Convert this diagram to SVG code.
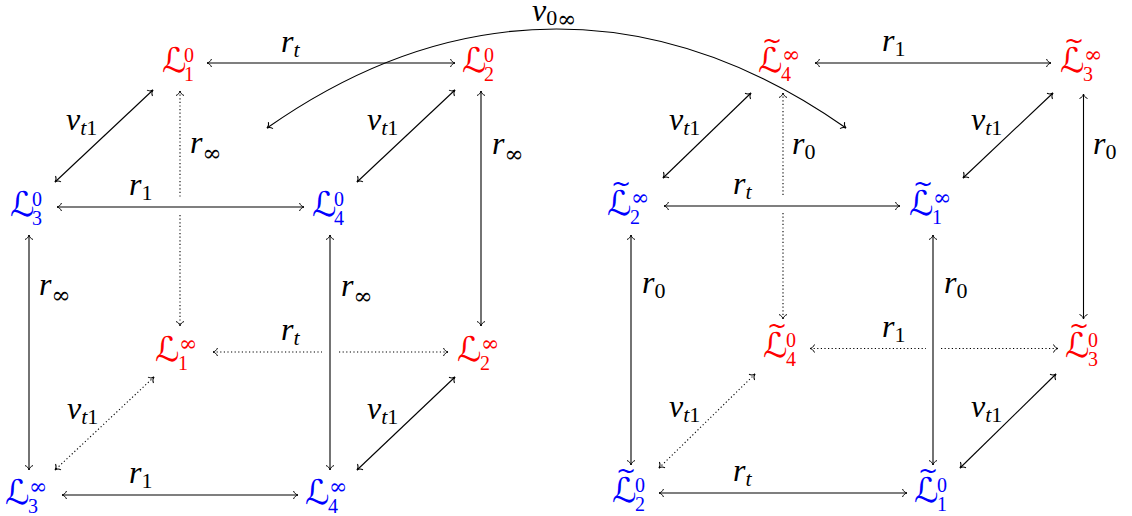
<svg xmlns="http://www.w3.org/2000/svg" width="1132" height="516" viewBox="0 0 1132 516">
<style>
text{font-family:"Liberation Serif","Times New Roman",serif;fill:#000}
.cal{font-family:"DejaVu Serif","DejaVu Sans",serif;font-size:34px}
.sc{font-family:"Liberation Serif",serif;font-size:20px}
.si{font-family:"DejaVu Serif",serif;font-size:22px}
.til{font-family:"DejaVu Sans",sans-serif;font-size:24px;text-anchor:middle}
.red text{fill:#ff0000}
.blue text{fill:#0000ff}
.lb{font-family:"Liberation Serif",serif;font-size:32px;font-style:italic}
.ls{font-size:22px}
.up{font-style:normal}
.inf{font-family:"DejaVu Serif",serif;font-size:23px;font-style:normal}
.ln{fill:none;stroke:#000;stroke-width:1.1;marker-start:url(#ah);marker-end:url(#ah)}
.dt{stroke-dasharray:1.2 2.4}
</style>
<defs>
<marker id="ah" viewBox="-6 -5 8 10" refX="0" refY="0" markerWidth="8" markerHeight="10" markerUnits="userSpaceOnUse" orient="auto-start-reverse">
<path d="M-4.5,-4 C-3.5,-1.5 -1.5,-0.3 0,0 C-1.5,0.3 -3.5,1.5 -4.5,4" fill="none" stroke="#000" stroke-width="1"/>
</marker>
</defs>
<g id="connectors">
<path class="ln" d="M207,63 H455"/>
<path class="ln" d="M57,207 H304"/>
<path class="ln dt" d="M213,352 H322 M339,352 H448"/>
<path class="ln" d="M62,495 H298"/>
<path class="ln" d="M29,235 V470"/>
<path class="ln" d="M330,235 V470"/>
<path class="ln dt" d="M180,91 V198 M180,215 V326"/>
<path class="ln" d="M481,91 V326"/>
<path class="ln" d="M153,90 L55,182"/>
<path class="ln" d="M455,90 L357,182"/>
<path class="ln dt" d="M154,377 L55,470"/>
<path class="ln" d="M455,377 L357,470"/>
<path class="ln" d="M815,63 H1051"/>
<path class="ln" d="M664,206 H900"/>
<path class="ln dt" d="M810,348.5 H926 M941,348.5 H1058"/>
<path class="ln" d="M659,493 H907"/>
<path class="ln" d="M631,235 V465"/>
<path class="ln" d="M933,235 V465"/>
<path class="ln dt" d="M783,93 V197 M783,213 V319"/>
<path class="ln" d="M1083.5,94 V319"/>
<path class="ln" d="M751,93 L663,178"/>
<path class="ln" d="M1053,93 L963,178"/>
<path class="ln dt" d="M755,374 L659,468"/>
<path class="ln" d="M1056,374 L960,468"/>
<path class="ln" d="M267,128 C455,-4 658,-4 846,128"/>
</g>
<g id="labels">
<text class="lb" x="281" y="52">r<tspan class="ls" dy="5">t</tspan></text>
<text class="lb" x="129" y="195">r<tspan class="ls up" dy="5">1</tspan></text>
<text class="lb" x="281" y="340">r<tspan class="ls" dy="5">t</tspan></text>
<text class="lb" x="129" y="483">r<tspan class="ls up" dy="5">1</tspan></text>
<text class="lb" x="39" y="295">r<tspan class="inf" dy="8">∞</tspan></text>
<text class="lb" x="190" y="153">r<tspan class="inf" dy="8">∞</tspan></text>
<text class="lb" x="341" y="296">r<tspan class="inf" dy="8">∞</tspan></text>
<text class="lb" x="492" y="154">r<tspan class="inf" dy="8">∞</tspan></text>
<text class="lb" x="66" y="130">v<tspan class="ls" dy="5">t</tspan><tspan class="ls up">1</tspan></text>
<text class="lb" x="367" y="130">v<tspan class="ls" dy="5">t</tspan><tspan class="ls up">1</tspan></text>
<text class="lb" x="67" y="419">v<tspan class="ls" dy="5">t</tspan><tspan class="ls up">1</tspan></text>
<text class="lb" x="367" y="419">v<tspan class="ls" dy="5">t</tspan><tspan class="ls up">1</tspan></text>
<text class="lb" x="882" y="51">r<tspan class="ls up" dy="5">1</tspan></text>
<text class="lb" x="733" y="194">r<tspan class="ls" dy="5">t</tspan></text>
<text class="lb" x="882" y="337">r<tspan class="ls up" dy="5">1</tspan></text>
<text class="lb" x="733" y="481">r<tspan class="ls" dy="5">t</tspan></text>
<text class="lb" x="642" y="293">r<tspan class="ls up" dy="5">0</tspan></text>
<text class="lb" x="944" y="293">r<tspan class="ls up" dy="5">0</tspan></text>
<text class="lb" x="792" y="154">r<tspan class="ls up" dy="5">0</tspan></text>
<text class="lb" x="1093" y="154">r<tspan class="ls up" dy="5">0</tspan></text>
<text class="lb" x="669" y="130">v<tspan class="ls" dy="5">t</tspan><tspan class="ls up">1</tspan></text>
<text class="lb" x="971" y="130">v<tspan class="ls" dy="5">t</tspan><tspan class="ls up">1</tspan></text>
<text class="lb" x="669" y="417">v<tspan class="ls" dy="5">t</tspan><tspan class="ls up">1</tspan></text>
<text class="lb" x="971" y="417">v<tspan class="ls" dy="5">t</tspan><tspan class="ls up">1</tspan></text>
<text class="lb" x="532" y="21">v<tspan class="ls up" dy="4">0</tspan><tspan class="inf" dy="2">∞</tspan></text>
</g>
<g id="L1_0" class="red"><text class="cal" x="162" y="72">ℒ</text><text class="sc" x="184" y="62">0</text><text class="sc" x="184" y="81">1</text></g>
<g id="L2_0" class="red"><text class="cal" x="462" y="72">ℒ</text><text class="sc" x="484" y="62">0</text><text class="sc" x="484" y="81">2</text></g>
<g id="L3_0" class="blue"><text class="cal" x="10" y="216">ℒ</text><text class="sc" x="32" y="206">0</text><text class="sc" x="32" y="225">3</text></g>
<g id="L4_0" class="blue"><text class="cal" x="312" y="216">ℒ</text><text class="sc" x="334" y="206">0</text><text class="sc" x="334" y="225">4</text></g>
<g id="L1_inf" class="red"><text class="cal" x="155" y="361">ℒ</text><text class="si" x="179" y="351">∞</text><text class="sc" x="178" y="370">1</text></g>
<g id="L2_inf" class="red"><text class="cal" x="457" y="361">ℒ</text><text class="si" x="481" y="351">∞</text><text class="sc" x="480" y="370">2</text></g>
<g id="L3_inf" class="blue"><text class="cal" x="5" y="504">ℒ</text><text class="si" x="29" y="494">∞</text><text class="sc" x="28" y="513">3</text></g>
<g id="L4_inf" class="blue"><text class="cal" x="305" y="504">ℒ</text><text class="si" x="329" y="494">∞</text><text class="sc" x="328" y="513">4</text></g>
<g id="Lt4_inf" class="red"><text class="til" x="772" y="49">~</text><text class="cal" x="758" y="72">ℒ</text><text class="si" x="782" y="62">∞</text><text class="sc" x="781" y="81">4</text></g>
<g id="Lt3_inf" class="red"><text class="til" x="1074" y="49">~</text><text class="cal" x="1060" y="72">ℒ</text><text class="si" x="1084" y="62">∞</text><text class="sc" x="1083" y="81">3</text></g>
<g id="Lt2_inf" class="blue"><text class="til" x="621" y="192">~</text><text class="cal" x="607" y="215">ℒ</text><text class="si" x="631" y="205">∞</text><text class="sc" x="630" y="224">2</text></g>
<g id="Lt1_inf" class="blue"><text class="til" x="923" y="192">~</text><text class="cal" x="909" y="215">ℒ</text><text class="si" x="933" y="205">∞</text><text class="sc" x="932" y="224">1</text></g>
<g id="Lt4_0" class="red"><text class="til" x="777" y="334">~</text><text class="cal" x="763" y="357">ℒ</text><text class="sc" x="786" y="347">0</text><text class="sc" x="786" y="366">4</text></g>
<g id="Lt3_0" class="red"><text class="til" x="1079" y="334">~</text><text class="cal" x="1065" y="357">ℒ</text><text class="sc" x="1088" y="347">0</text><text class="sc" x="1088" y="366">3</text></g>
<g id="Lt2_0" class="blue"><text class="til" x="626" y="479">~</text><text class="cal" x="612" y="502">ℒ</text><text class="sc" x="635" y="492">0</text><text class="sc" x="635" y="511">2</text></g>
<g id="Lt1_0" class="blue"><text class="til" x="928" y="479">~</text><text class="cal" x="914" y="502">ℒ</text><text class="sc" x="937" y="492">0</text><text class="sc" x="937" y="511">1</text></g>
</svg>
